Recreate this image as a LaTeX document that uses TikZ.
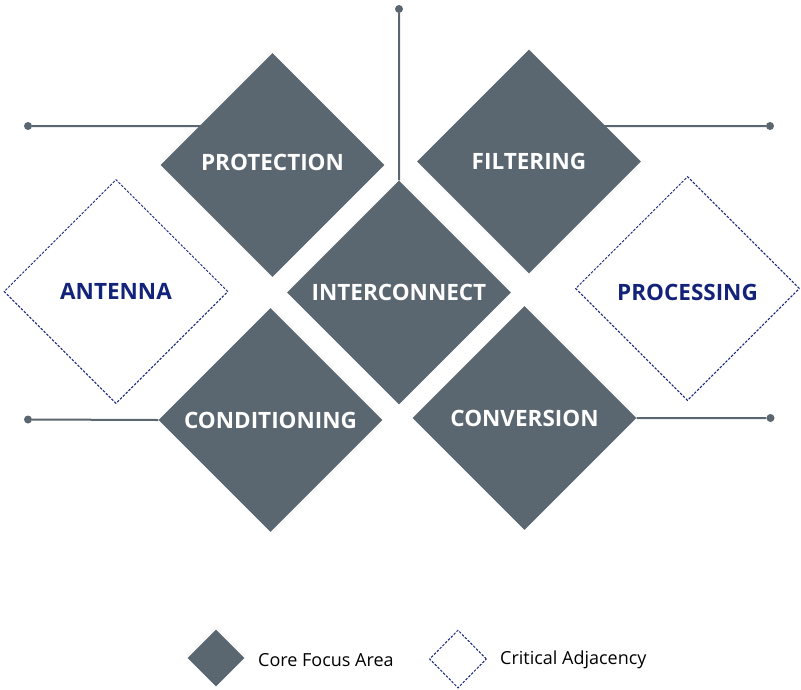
\documentclass[tikz,border=0pt]{standalone}
\usepackage{fontspec}
\setmainfont{Open Sans}
\usepackage{tikz}
\usetikzlibrary{
        positioning,
        shapes.geometric,
        backgrounds
    }
\definecolor{slate}{HTML}{5B6770}
\definecolor{navy}{HTML}{13237A}
\tikzset{
    core/.style={diamond,fill=slate,text=white,inner sep=0pt,aspect=1,
        minimum width=224pt,minimum height=224pt,font=\fontsize{22.5}{26}\selectfont\bfseries},
    adjacent/.style={diamond,draw=navy,line width=1pt,dash pattern=on 2.5pt off 1.5pt,
        text=navy,inner sep=0pt,aspect=1,
        minimum width=224pt,minimum height=224pt,font=\fontsize{22.5}{26}\selectfont\bfseries},
    dot/.style={circle,fill=slate,inner sep=0pt,minimum size=8pt},
    link/.style={draw=slate,line width=2pt},
    legendtext/.style={anchor=west,inner sep=0pt,font=\fontsize{18}{21}\selectfont}
}

\begin{document}
\begin{tikzpicture}[x=1pt,y=-1pt]
    \useasboundingbox (0,0) rectangle (801,689);
    % diamonds
    \node[core] (prot)  at (272.5,165) {\smash{\raisebox{-5pt}{PROTECTION}}};
    \node[core] (filt)  at (529,161.5) {FILTERING};
    \node[core] (inter) at (399,292.5) {INTERCONNECT};
    \node[core] (cond)  at (270.5,420) {CONDITIONING};
    \node[core] (conv)  at (524.5,418) {CONVERSION};
    \node[adjacent] (ant)  at (116,291.5) {ANTENNA};
    \node[adjacent] (proc) at (687.5,288.5) {\smash{\raisebox{-12pt}{PROCESSING}}};
    % end points
    \node[dot] (dTop) at (399,9) {};
    \node[dot] (dLA)  at (28,126) {};
    \node[dot] (dRA)  at (770,126) {};
    \node[dot] (dLB)  at (28,419.5) {};
    \node[dot] (dRB)  at (770.5,418) {};
    \begin{scope}[on background layer]
        \path[link]
            (dTop) -- (inter.north)
            (dLA)  -- (dLA -| prot.center)
            (dRA)  -- (dRA -| filt.center)
            (dLB)  -- (cond.west)
            (dRB)  -- (conv.east)
        ;
    \end{scope}
    % legend
    \node[core,minimum width=57pt,minimum height=57pt] (keyCore) at (216,658) {};
    \node[legendtext] (txtCore) at (258,660) {Core Focus Area};
    \node[adjacent,minimum width=57pt,minimum height=58pt] (keyAdj) at (458,659) {};
    \node[legendtext] (txtAdj) at (500,660) {Critical Adjacency};
\end{tikzpicture}
\end{document}
